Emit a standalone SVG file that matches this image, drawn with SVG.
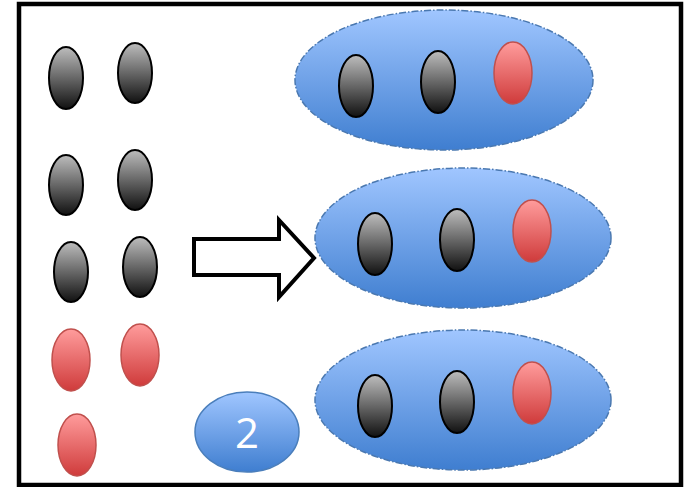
<svg xmlns="http://www.w3.org/2000/svg" width="691" height="487" viewBox="0 0 691 487">
  <defs>
    <linearGradient id="gBlue" x1="0" y1="0" x2="0" y2="1">
      <stop offset="0" stop-color="#a0c6ff"/>
      <stop offset="1" stop-color="#3f7ed0"/>
    </linearGradient>
    <linearGradient id="gGray" x1="0" y1="0" x2="0" y2="1">
      <stop offset="0" stop-color="#bdbdbd"/>
      <stop offset="1" stop-color="#111111"/>
    </linearGradient>
    <linearGradient id="gRed" x1="0" y1="0" x2="0" y2="1">
      <stop offset="0" stop-color="#ff9c9c"/>
      <stop offset="1" stop-color="#cf3b3b"/>
    </linearGradient>
  </defs>
  <style>
    .frame { fill: #ffffff; stroke: #000000; stroke-width: 4.5; }
    .group { fill: url(#gBlue); stroke: #4a78b0; stroke-width: 1.5; stroke-dasharray: 7 2 1.5 2; }
    .blk { fill: url(#gGray); stroke: #000000; stroke-width: 2; }
    .red { fill: url(#gRed); stroke: #c0504d; stroke-width: 1.5; }
    .badge { fill: url(#gBlue); stroke: #4a7ebb; stroke-width: 1.5; }
    .arrow { fill: #ffffff; stroke: #000000; stroke-width: 4; stroke-linejoin: miter; }
    .num { fill: #ffffff; font-family: "Open Sans", "Liberation Sans", sans-serif; font-size: 42px; text-anchor: middle; }
  </style>

  <rect class="frame" x="19" y="4" width="662" height="481"/>

  <!-- loose items on the left -->
  <g id="items">
    <ellipse class="blk" cx="66" cy="78" rx="17" ry="31"/>
    <ellipse class="blk" cx="135" cy="73" rx="17" ry="30"/>
    <ellipse class="blk" cx="66" cy="185" rx="17" ry="30"/>
    <ellipse class="blk" cx="135" cy="180" rx="17" ry="30"/>
    <ellipse class="blk" cx="71" cy="272" rx="17" ry="30"/>
    <ellipse class="blk" cx="140" cy="267" rx="17" ry="30"/>
    <ellipse class="red" cx="71" cy="360" rx="19" ry="31"/>
    <ellipse class="red" cx="140" cy="355" rx="19" ry="31"/>
    <ellipse class="red" cx="77" cy="445" rx="19" ry="31"/>
  </g>

  <!-- connectors -->
  <g id="connectors">
    <path class="arrow" d="M194,239 H279 V220 L314,258 L279,297 V275 H194 Z"/>
  </g>

  <g id="group1">
    <ellipse class="group" cx="444" cy="80" rx="149" ry="70"/>
    <ellipse class="blk" cx="356" cy="86" rx="17" ry="31"/>
    <ellipse class="blk" cx="438" cy="82" rx="17" ry="31"/>
    <ellipse class="red" cx="513" cy="73" rx="19" ry="31"/>
  </g>

  <g id="group2">
    <ellipse class="group" cx="463" cy="238" rx="148" ry="70"/>
    <ellipse class="blk" cx="375" cy="244" rx="17" ry="31"/>
    <ellipse class="blk" cx="457" cy="240" rx="17" ry="31"/>
    <ellipse class="red" cx="532" cy="231" rx="19" ry="31"/>
  </g>

  <g id="group3">
    <ellipse class="group" cx="463" cy="400" rx="148" ry="70"/>
    <ellipse class="blk" cx="375" cy="406" rx="17" ry="31"/>
    <ellipse class="blk" cx="457" cy="402" rx="17" ry="31"/>
    <ellipse class="red" cx="532" cy="393" rx="19" ry="31"/>
  </g>

  <g id="remainder">
    <ellipse class="badge" cx="247" cy="432" rx="52" ry="40"/>
    <text class="num" x="247" y="448">2</text>
  </g>
</svg>
